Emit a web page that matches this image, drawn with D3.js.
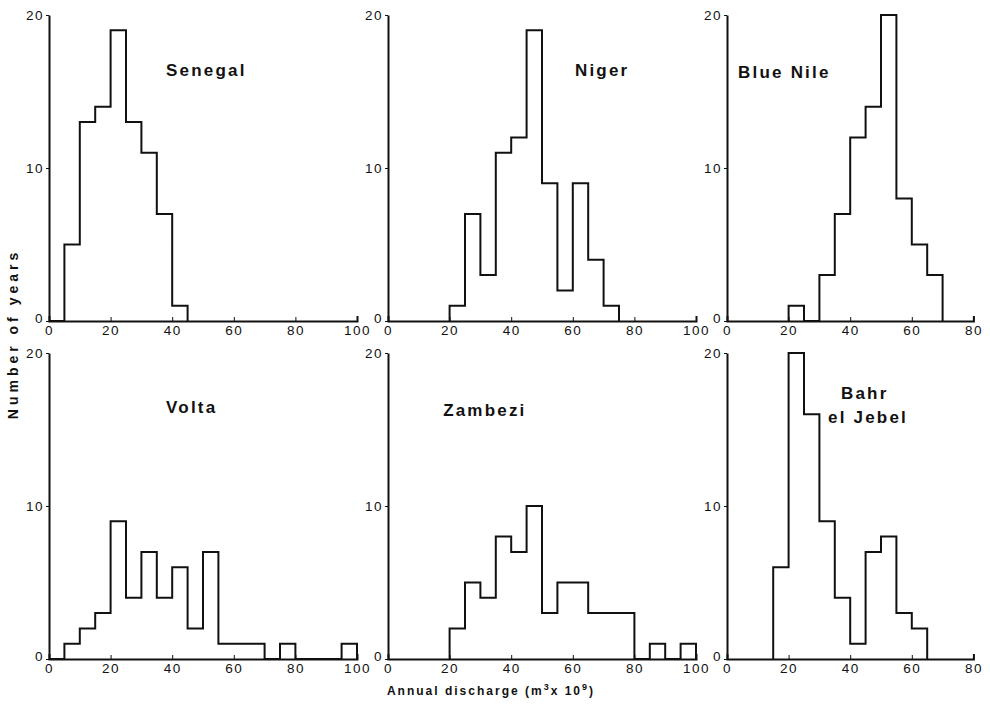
<!DOCTYPE html>
<html>
<head>
<meta charset="utf-8">
<script src="https://cdn.jsdelivr.net/npm/d3@7"></script>
<style>
  body { margin: 0; background: #fff; }
  svg { display: block; }
  .tick text, .lbl { font-family: "Liberation Sans", Arial, sans-serif; fill: #111; }
  .tick text { font-size: 13.5px; letter-spacing: 1.5px; }
  .title { font-family: "Liberation Sans", Arial, sans-serif; font-weight: bold; font-size: 17px; letter-spacing: 2.2px; fill: #111; }
</style>
</head>
<body>
<svg width="990" height="704"></svg>
<script>
// river names, in panel order
const rivers = ['Senegal', 'Niger', 'Blue Nile', 'Volta', 'Zambezi', 'Bahr el Jebel']
// left edge (m3 x 10^9) of first bin, bins are 5 wide
const binStart = [0, 20, 20, 0, 20, 15]
// number of years per bin
const senegal = [0, 5, 13, 14, 19, 13, 11, 7, 1]
const niger = [1, 7, 3, 11, 12, 19, 9, 2, 9, 4, 1]
const blueNile = [1, 0, 3, 7, 12, 14, 20, 8, 5, 3]
const volta = [0, 1, 2, 3, 9, 4, 7, 4, 6, 2, 7, 1, 1, 1, 0, 1, 0, 0, 0, 1]
const zambezi = [2, 5, 4, 8, 7, 10, 3, 5, 5, 3, 3, 3, 0, 1, 0, 1]
const bahr = [6, 20, 16, 9, 4, 1, 7, 8, 3, 2]
const counts = [senegal, niger, blueNile, volta, zambezi, bahr]
// x axis max per panel
const xMax = [100, 100, 80, 100, 100, 80]
const xTicks100 = [0, 20, 40, 60, 80, 100]
const xTicks80 = [0, 20, 40, 60, 80]
const yTicks = [0, 10, 20]
const binWidth = 5

// layout
const colLeft = [49, 388, 727]
const rowTop = [15, 353]
const plotH = 306
const pxPerUnit = 3.08
const titlePos = [
  [[38, 16, 'Senegal']],
  [[60.7, 16, 'Niger']],
  [[3.6, 15.9, 'Blue Nile']],
  [[38, 16.1, 'Volta']],
  [[17.9, 15.9, 'Zambezi']],
  [[37, 17, 'Bahr'], [32.8, 15.4, 'el Jebel']]
]

const svg = d3.select('svg')

rivers.forEach((name, i) => {
  const left = colLeft[i % 3]
  const top = rowTop[Math.floor(i / 3)]
  const g = svg.append('g').attr('transform', `translate(${left},${top})`)

  const x = d3.scaleLinear().domain([0, xMax[i]]).range([0, xMax[i] * pxPerUnit])
  const y = d3.scaleLinear().domain([0, 20]).range([plotH, 0])

  // outline of histogram
  const pts = [[binStart[i], 0]]
  counts[i].forEach((c, k) => {
    const x0 = binStart[i] + k * binWidth
    pts.push([x0, c], [x0 + binWidth, c])
  })
  pts.push([binStart[i] + counts[i].length * binWidth, 0])

  const line = d3.line().x(d => x(d[0])).y(d => y(d[1]))

  g.append('path')
    .attr('d', line(pts))
    .attr('fill', 'none')
    .attr('stroke', '#111')
    .attr('stroke-width', 2)

  const xAxis = g.append('g')
    .attr('transform', `translate(0,${plotH})`)
    .call(d3.axisBottom(x)
      .tickValues(xMax[i] === 100 ? xTicks100 : xTicks80)
      .tickSize(-4)
      .tickSizeOuter(-5)
      .tickPadding(4))
  xAxis.select('.domain').attr('stroke-width', 2).attr('stroke', '#111')
  xAxis.selectAll('.tick line').attr('stroke', '#111')

  const yAxis = g.append('g')
    .call(d3.axisLeft(y)
      .tickValues(yTicks)
      .tickSize(3)
      .tickSizeOuter(0)
      .tickPadding(2))
  yAxis.select('.domain').attr('stroke-width', 2).attr('stroke', '#111')
  yAxis.selectAll('.tick line').attr('stroke', '#111')
  yAxis.selectAll('.tick text').attr('dy', d => d === 0 ? '0.1em' : '0.32em')

  titlePos[i].forEach(t => {
    g.append('text')
      .attr('class', 'title')
      .attr('x', x(t[0]))
      .attr('y', y(t[1]))
      .text(t[2])
  })
})

svg.append('text')
  .attr('class', 'lbl')
  .attr('transform', 'translate(18,334) rotate(-90)')
  .attr('text-anchor', 'middle')
  .attr('font-weight', 'bold')
  .attr('font-size', 14)
  .attr('letter-spacing', 4)
  .text('Number of years')

const xl = svg.append('text')
  .attr('class', 'lbl')
  .attr('x', 491)
  .attr('y', 695)
  .attr('text-anchor', 'middle')
  .attr('font-weight', 'bold')
  .attr('font-size', 12)
  .attr('letter-spacing', 2)
xl.append('tspan').text('Annual discharge (m')
xl.append('tspan').attr('dy', -5).attr('font-size', 9).text('3')
xl.append('tspan').attr('dy', 5).text('x 10')
xl.append('tspan').attr('dy', -5).attr('font-size', 9).text('9')
xl.append('tspan').attr('dy', 5).text(')')
</script>
</body>
</html>
